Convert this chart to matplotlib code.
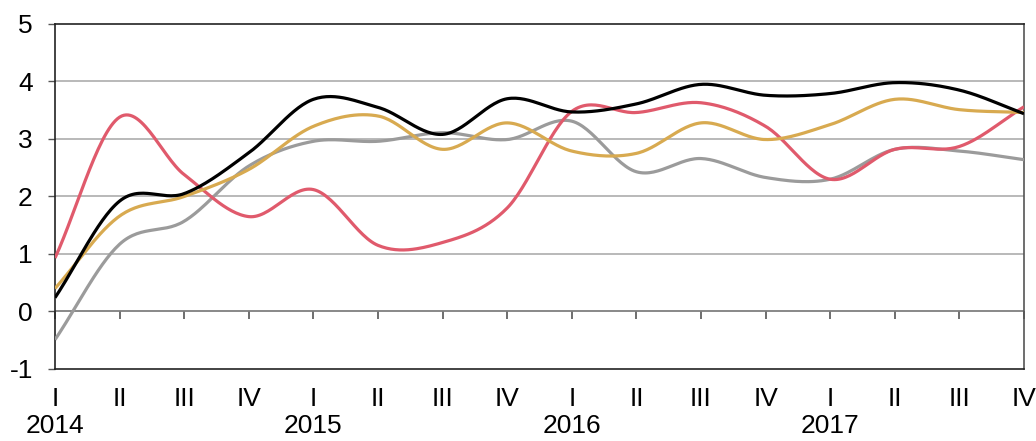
import numpy as np
import matplotlib
matplotlib.use('Agg')
import matplotlib.pyplot as plt

plt.rcParams['font.family'] = ['Liberation Sans', 'DejaVu Sans']

quarters = ['I', 'II', 'III', 'IV'] * 4
years = ['2014', '2015', '2016', '2017']

black_vals = [0.24, 1.92, 2.05, 2.76, 3.69, 3.55, 3.08, 3.70,
              3.47, 3.61, 3.95, 3.76, 3.79, 3.98, 3.85, 3.44]
gold_vals = [0.40, 1.66, 2.00, 2.47, 3.22, 3.40, 2.82, 3.28,
             2.79, 2.75, 3.28, 2.99, 3.25, 3.69, 3.51, 3.46]
red_vals = [0.93, 3.38, 2.38, 1.65, 2.12, 1.15, 1.20, 1.80,
            3.48, 3.46, 3.63, 3.22, 2.30, 2.82, 2.87, 3.56]
gray_vals = [-0.49, 1.17, 1.57, 2.53, 2.96, 2.96, 3.11, 2.99,
             3.31, 2.43, 2.66, 2.33, 2.30, 2.82, 2.79, 2.64]


def smooth(x, y, n=30):
    # catmull-rom curve through the points, like a "smoothed line" in a spreadsheet
    x = np.asarray(x, float)
    y = np.asarray(y, float)
    px = np.concatenate([[2 * x[0] - x[1]], x, [2 * x[-1] - x[-2]]])
    py = np.concatenate([[2 * y[0] - y[1]], y, [2 * y[-1] - y[-2]]])
    xs, ys = [], []
    t = np.linspace(0, 1, n, endpoint=False)
    for i in range(1, len(px) - 2):
        for p, out in ((px, xs), (py, ys)):
            p0, p1, p2, p3 = p[i - 1], p[i], p[i + 1], p[i + 2]
            out.append(0.5 * (2 * p1 + (-p0 + p2) * t
                              + (2 * p0 - 5 * p1 + 4 * p2 - p3) * t ** 2
                              + (-p0 + 3 * p1 - 3 * p2 + p3) * t ** 3))
    xs.append([x[-1]])
    ys.append([y[-1]])
    return np.concatenate(xs), np.concatenate(ys)


fig = plt.figure(figsize=(10.36, 4.41), dpi=100)
ax = fig.add_axes([0.0531, 0.1633, 0.9353, 0.7823])

x = np.arange(len(quarters))
series = [
    (gray_vals, '#9b9b9b'),
    (red_vals, '#e05a6c'),
    (gold_vals, '#d8aa50'),
    (black_vals, '#000000'),
]
for vals, col in series:
    sx, sy = smooth(x, vals)
    ax.plot(sx, sy, color=col, lw=2.3, solid_capstyle='butt', zorder=3)

ax.set_xlim(0, len(quarters) - 1)
ax.set_ylim(-1, 5)
ax.set_yticks(range(-1, 6))
ax.set_yticklabels([str(v) for v in range(-1, 6)])
for v in range(1, 5):
    ax.axhline(v, color='#a6a6a6', lw=1.1, zorder=1)
ax.axhline(0, color='#7f7f7f', lw=1.3, zorder=2)

labels = []
for i, q in enumerate(quarters):
    labels.append(q + '\n' + years[i // 4] if q == 'I' else q + '\n')
ax.set_xticks(x)
ax.set_xticklabels(labels, linespacing=1.18)
ax.tick_params(axis='x', length=0, pad=13, labelsize=19)
ax.tick_params(axis='y', length=5, width=1, color='#555555', pad=11, labelsize=19)

# tick marks sit on the zero line
zero_axis = ax.secondary_xaxis(1 / 6)
zero_axis.set_xticks(x)
zero_axis.tick_params(length=6, width=1.2, color='#555555', labelbottom=False)
zero_axis.spines['bottom'].set_visible(False)
zero_axis.set_xticklabels([])

for side in ['left', 'bottom', 'top']:
    ax.spines[side].set_color('#222222')
    ax.spines[side].set_linewidth(1.2)
ax.spines['right'].set_color('#555555')
ax.spines['right'].set_linewidth(1.2)

fig.savefig('out.png', dpi=100)
